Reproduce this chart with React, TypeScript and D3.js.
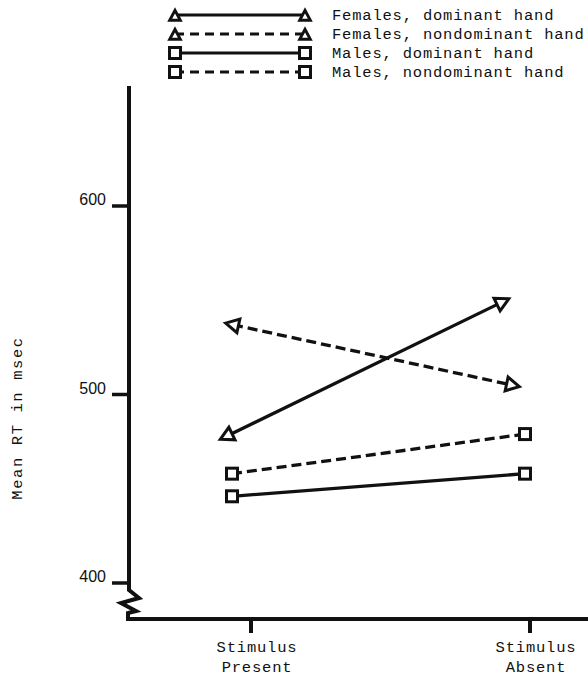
import * as d3 from 'd3'

const categories = ['Present', 'Absent']
const categoryLabels = [['Stimulus', 'Present'], ['Stimulus', 'Absent']]
const yTicks = [400, 500, 600]
const yLabel = 'Mean RT in msec'

const seriesNames = [
  'Females, dominant hand',
  'Females, nondominant hand',
  'Males, dominant hand',
  'Males, nondominant hand',
]
const femalesDominant = [478, 549]
const femalesNondominant = [537, 505]
const malesDominant = [446, 458]
const malesNondominant = [458, 479]

const seriesValues = [femalesDominant, femalesNondominant, malesDominant, malesNondominant]

// drawing style per series: marker, dash, horizontal nudge of the points off the tick
const styles = [
  { marker: 'tri', dash: null, shift: [-24, -28] },
  { marker: 'tri', dash: '10,5', shift: [-18, -18] },
  { marker: 'sq', dash: null, shift: [-19, -5] },
  { marker: 'sq', dash: '10,5', shift: [-19, -5] },
]

const W = 588
const H = 677
const axisX = 129
const axisBottom = 619
const ink = '#111'
const mono = '"Liberation Mono", "DejaVu Sans Mono", monospace'

function Triangle({ x, y, angle, s = 1 }: { x: number; y: number; angle: number; s?: number }) {
  return (
    <path
      d={`M${7.5 * s},0 L${-5.5 * s},${-7 * s} L${-5.5 * s},${7 * s} Z`}
      transform={`translate(${x},${y}) rotate(${angle})`}
      fill="#fff"
      stroke={ink}
      strokeWidth={3}
      strokeLinejoin="miter"
    />
  )
}

function Square({ x, y }: { x: number; y: number }) {
  return (
    <rect x={x - 5.5} y={y - 5.5} width={11} height={11} fill="#fff" stroke={ink} strokeWidth={3} />
  )
}

export default function App() {
  const x = d3.scalePoint<string>().domain(categories).range([251, 530])
  const y = d3.scaleLinear().domain([400, 600]).range([583, 206])

  const line = d3
    .line<[number, number]>()
    .x((d) => d[0])
    .y((d) => d[1])

  const legendY = d3.scalePoint<string>().domain(seriesNames).range([15, 72])
  const legendX = [175, 305]

  const breakPath = d3.line()([
    [axisX, 86],
    [axisX, 590],
    [axisX + 10, 598],
    [axisX - 8, 603],
    [axisX + 7, 611],
    [axisX - 1, 613],
    [axisX - 1, axisBottom],
  ])

  return (
    <svg width={W} height={H} style={{ position: 'absolute', left: 0, top: 0, background: '#fff' }}>
      {/* legend */}
      {seriesNames.map((name, i) => {
        const ly = legendY(name)!
        const st = styles[i]
        return (
          <g key={name}>
            <line
              x1={legendX[0]}
              x2={legendX[1]}
              y1={ly}
              y2={ly}
              stroke={ink}
              strokeWidth={3}
              strokeDasharray={st.dash ? '9,6' : undefined}
            />
            {legendX.map((lx, j) =>
              st.marker === 'tri' ? (
                <Triangle key={j} x={lx} y={ly + 1} angle={-90} s={0.75} />
              ) : (
                <Square key={j} x={lx} y={ly} />
              )
            )}
            <text
              x={332}
              y={ly + 5}
              fontFamily={mono}
              fontSize={15.5}
              letterSpacing={0.8}
              fill={ink}
            >
              {name}
            </text>
          </g>
        )
      })}

      {/* axes */}
      <path d={breakPath!} fill="none" stroke={ink} strokeWidth={4} strokeLinejoin="miter" />
      <line x1={axisX - 3} x2={W} y1={axisBottom} y2={axisBottom} stroke={ink} strokeWidth={4} />
      {yTicks.map((t) => (
        <g key={t}>
          <line x1={112} x2={axisX} y1={y(t)} y2={y(t)} stroke={ink} strokeWidth={3.5} />
          <text
            x={106}
            y={y(t) - 1}
            textAnchor="end"
            fontFamily='"Liberation Sans", Arial, sans-serif'
            fontSize={16}
            fill={ink}
          >
            {t}
          </text>
        </g>
      ))}
      {categories.map((c, i) => (
        <g key={c}>
          <line x1={x(c)} x2={x(c)} y1={axisBottom} y2={axisBottom + 14} stroke={ink} strokeWidth={4} />
          {categoryLabels[i].map((s, k) => (
            <text
              key={k}
              x={x(c)! + 6}
              y={652 + k * 20}
              textAnchor="middle"
              fontFamily={mono}
              fontSize={15.5}
              letterSpacing={0.8}
              fill={ink}
            >
              {s}
            </text>
          ))}
        </g>
      ))}
      <text
        transform={`translate(22,418) rotate(-90)`}
        textAnchor="middle"
        fontFamily={mono}
        fontSize={15.5}
        letterSpacing={1.6}
        fill={ink}
      >
        {yLabel}
      </text>

      {/* series */}
      {seriesValues.map((vals, i) => {
        const st = styles[i]
        const pts: [number, number][] = vals.map((v, k) => [x(categories[k])! + st.shift[k], y(v)])
        const ang = (Math.atan2(pts[1][1] - pts[0][1], pts[1][0] - pts[0][0]) * 180) / Math.PI
        return (
          <g key={seriesNames[i]}>
            <path
              d={line(pts)!}
              fill="none"
              stroke={ink}
              strokeWidth={3.3}
              strokeDasharray={st.dash ?? undefined}
            />
            {pts.map((p, k) =>
              st.marker === 'tri' ? (
                <Triangle key={k} x={p[0]} y={p[1]} angle={k === 0 ? ang + 180 : ang} />
              ) : (
                <Square key={k} x={p[0]} y={p[1]} />
              )
            )}
          </g>
        )
      })}
    </svg>
  )
}
